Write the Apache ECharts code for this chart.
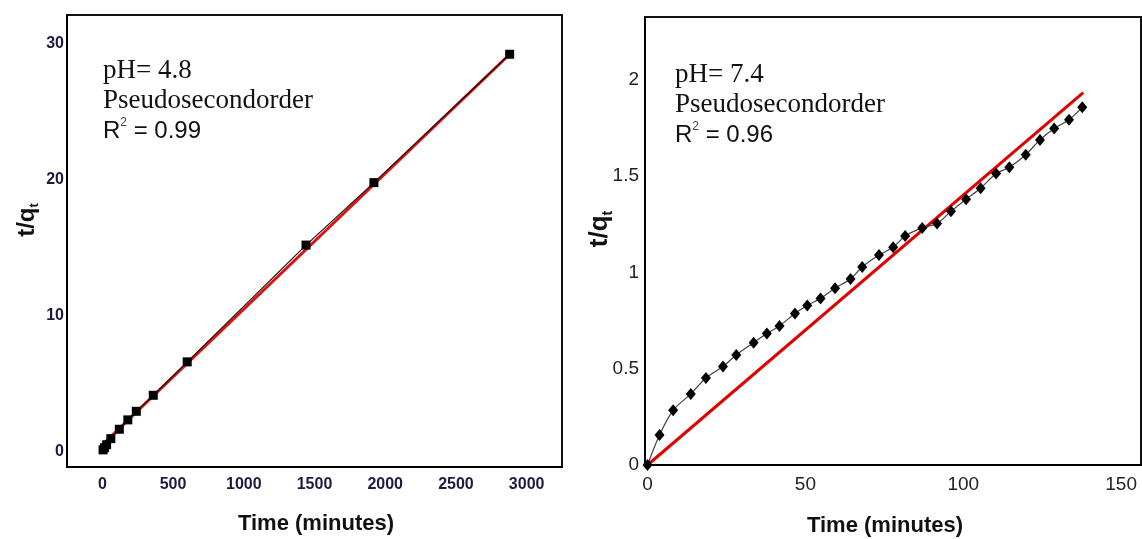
<!DOCTYPE html>
<html>
<head>
<meta charset="utf-8">
<script src="https://cdn.jsdelivr.net/npm/echarts@6/dist/echarts.min.js"></script>
<style>
  html, body { margin: 0; padding: 0; background: #fff; }
  #chart { width: 1142px; height: 539px; }
</style>
</head>
<body>
<div id="chart"></div>
<script>
// pH 4.8 — pseudo second order kinetics, t (min) vs t/qt
const acidTime = [5, 15, 30, 60, 120, 180, 240, 360, 600, 1440, 1920, 2880];
const acidTq   = [0.12, 0.28, 0.5, 0.95, 1.64, 2.33, 2.96, 4.14, 6.6, 15.2, 19.8, 29.25];
const acidFitTime = [0, 2880];
const acidFitTq   = [0.5, 29.25];
const acidXTicks = [0, 500, 1000, 1500, 2000, 2500, 3000];
const acidYTicks = [0, 10, 20, 30];

// pH 7.4 — pseudo second order kinetics
const neutralTime = [0, 3.8, 8.1, 13.7, 18.5, 23.9, 28.1, 33.6, 37.8, 41.8, 46.7, 50.6, 54.8, 59.4, 64.3, 68.0,
                     73.3, 77.8, 81.6, 87.0, 91.7, 96.1, 100.9, 105.5, 110.4, 114.6, 119.8, 124.3, 128.8, 133.5, 137.7];
const neutralTq   = [0, 0.156, 0.284, 0.369, 0.452, 0.511, 0.571, 0.635, 0.683, 0.722, 0.787, 0.828, 0.865, 0.918, 0.966, 1.028,
                     1.090, 1.130, 1.189, 1.231, 1.254, 1.317, 1.380, 1.437, 1.513, 1.546, 1.611, 1.688, 1.747, 1.793, 1.857];
const neutralFitTime = [0, 138];
const neutralFitTq   = [0, 1.933];
const neutralXTicks = [0, 50, 100, 150];
const neutralYTicks = [0, 0.5, 1, 1.5, 2];

const pairs = (xs, ys) => xs.map((x, i) => [x, ys[i]]);

const serif = '"Liberation Serif", "Times New Roman", serif';
const sans = '"Liberation Sans", Arial, sans-serif';

const baseAxis = {
  type: 'value',
  axisLine: { show: true, onZero: false, lineStyle: { color: '#000', width: 2 } },
  axisTick: { show: false },
  splitLine: { show: false }
};

const plain = v => String(v);
const leftLabel = { fontFamily: sans, fontSize: 16, fontWeight: 'bold', color: '#1c1b3e', formatter: plain };
const rightLabel = { fontFamily: sans, fontSize: 19, color: '#222', formatter: plain };

function annotation(x, y, ph, r2) {
  return [
    { type: 'text', x: x, y: y, style: { text: 'pH= ' + ph, font: '27px ' + serif, fill: '#111', verticalAlign: 'middle' } },
    { type: 'text', x: x, y: y + 30, style: { text: 'Pseudosecondorder', font: '27px ' + serif, fill: '#111', verticalAlign: 'middle' } },
    { type: 'text', x: x, y: y + 60, style: {
        text: '{r|R}{s|2}{n| = ' + r2 + '}',
        verticalAlign: 'middle',
        rich: {
          r: { fontFamily: sans, fontSize: 24, fill: '#111', lineHeight: 28 },
          s: { fontFamily: sans, fontSize: 12, fill: '#444', verticalAlign: 'top', lineHeight: 26 },
          n: { fontFamily: sans, fontSize: 24, fill: '#111', lineHeight: 28 }
        }
    } }
  ];
}

function yTitle(x, y, size) {
  return {
    type: 'text', x: x, y: y, rotation: Math.PI / 2,
    style: {
      text: '{m|t/q}{s|t}', align: 'center', verticalAlign: 'middle',
      rich: {
        m: { fontFamily: sans, fontWeight: 'bold', fontSize: size, fill: '#111', lineHeight: size + 4 },
        s: { fontFamily: sans, fontWeight: 'bold', fontSize: Math.round(size * 0.55), fill: '#111', verticalAlign: 'bottom', lineHeight: size + 4 }
      }
    }
  };
}

function xTitle(x, y) {
  return { type: 'text', x: x, y: y,
    style: { text: 'Time (minutes)', font: 'bold 22px ' + sans, fill: '#111', align: 'center', verticalAlign: 'middle' } };
}

const chart = echarts.init(document.getElementById('chart'), null, { renderer: 'canvas' });

chart.setOption({
  animation: false,
  backgroundColor: '#fff',
  grid: [
    { left: 67, top: 15, width: 495, height: 452, show: true, borderColor: '#111', borderWidth: 2 },
    { left: 645, top: 17, width: 496, height: 448, show: true, borderColor: '#111', borderWidth: 2 }
  ],
  xAxis: [
    Object.assign({}, baseAxis, { gridIndex: 0, min: -250, max: 3250,
      axisLabel: Object.assign({ customValues: acidXTicks, margin: 10 }, leftLabel) }),
    Object.assign({}, baseAxis, { gridIndex: 1, min: -0.8, max: 156.3,
      axisLabel: Object.assign({ customValues: neutralXTicks, margin: 10 }, rightLabel) })
  ],
  yAxis: [
    Object.assign({}, baseAxis, { gridIndex: 0, min: -1.14, max: 32.14,
      axisLabel: Object.assign({ customValues: acidYTicks, margin: 3 }, leftLabel) }),
    Object.assign({}, baseAxis, { gridIndex: 1, min: 0, max: 2.326,
      axisLabel: Object.assign({ customValues: neutralYTicks, margin: 6 }, rightLabel) })
  ],
  series: [
    { type: 'line', xAxisIndex: 0, yAxisIndex: 0, data: pairs(acidFitTime, acidFitTq),
      symbol: 'none', lineStyle: { color: '#e01010', width: 3 }, z: 2 },
    { type: 'line', xAxisIndex: 0, yAxisIndex: 0, data: pairs(acidTime, acidTq),
      symbol: 'rect', symbolSize: 9, itemStyle: { color: '#000' },
      lineStyle: { color: '#111', width: 1.2 }, z: 3 },
    { type: 'line', xAxisIndex: 1, yAxisIndex: 1, data: pairs(neutralFitTime, neutralFitTq),
      symbol: 'none', lineStyle: { color: '#e00000', width: 3 }, z: 2 },
    { type: 'line', xAxisIndex: 1, yAxisIndex: 1, data: pairs(neutralTime, neutralTq), smooth: 0.3,
      symbol: 'diamond', symbolSize: [10, 12], itemStyle: { color: '#000' },
      lineStyle: { color: '#444', width: 1.2 }, z: 3 }
  ],
  graphic: [
    ...annotation(103, 71, '4.8', '0.99'),
    ...annotation(675, 75, '7.4', '0.96'),
    yTitle(27, 220, 24),
    yTitle(600, 229, 26),
    xTitle(316, 524),
    xTitle(885, 526)
  ]
});
</script>
</body>
</html>
